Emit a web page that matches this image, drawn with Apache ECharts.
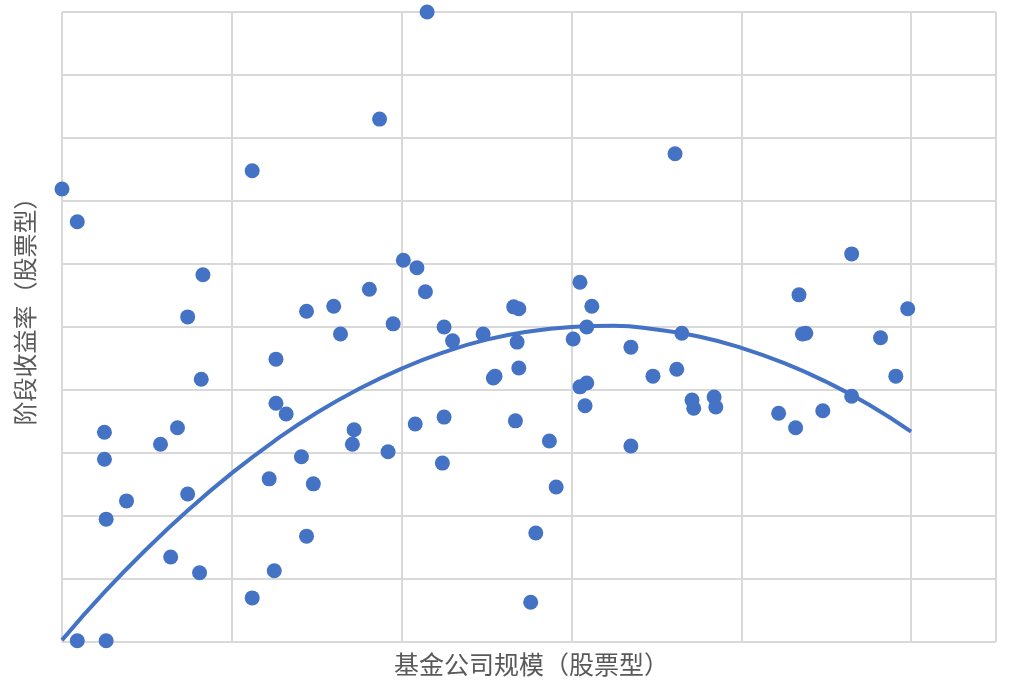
<!DOCTYPE html>
<html>
<head>
<meta charset="utf-8">
<script src="https://cdn.jsdelivr.net/npm/echarts@6/dist/echarts.min.js"></script>
<style>html,body{margin:0;padding:0;background:#fff;}#c{width:1014px;height:684px;}</style>
</head>
<body>
<div id="c"></div>
<script>
// Scatter points: fund company size (x) vs period return (y)
var sizeX = [0.00,0.09,0.09,0.26,0.25,0.25,0.26,0.38,0.58,0.68,0.64,0.74,0.74,0.83,0.82,0.81,
  1.12,1.12,1.26,1.26,1.32,1.22,1.25,1.41,1.44,1.44,1.48,1.60,1.64,1.72,1.71,1.81,1.87,1.92,1.95,
  2.01,2.08,2.09,2.14,2.15,2.25,2.25,2.24,2.30,2.48,2.54,2.55,2.66,2.69,2.67,2.68,2.69,2.79,2.76,2.87,2.91,
  3.01,3.05,3.05,3.09,3.08,3.09,3.12,3.35,3.35,3.48,3.61,3.62,3.65,3.71,3.72,3.84,3.85,
  4.22,4.32,4.34,4.36,4.38,4.48,4.65,4.65,4.82,4.91,4.98];
var returnY = [7.19,6.67,0.02,0.02,3.33,2.90,1.95,2.24,3.14,3.40,1.35,2.35,5.16,5.83,4.17,1.10,
  7.48,0.70,4.49,3.79,3.62,2.59,1.13,2.94,5.25,1.68,2.51,5.33,4.89,3.37,3.14,5.60,8.30,3.02,5.05,
  6.06,3.46,5.94,5.56,10.00,5.00,3.57,2.84,4.78,4.89,4.19,4.22,5.32,5.29,3.51,4.76,4.35,1.73,0.63,3.19,2.46,
  4.81,5.71,4.05,4.11,3.75,5.00,5.33,4.68,3.11,4.22,7.75,4.33,4.90,3.84,3.71,3.89,3.73,
  3.63,3.40,5.51,4.89,4.90,3.67,6.16,3.90,4.83,4.22,5.29];
// Polynomial trendline
var trendX = [0,0.25,0.5,0.75,1,1.25,1.5,1.75,2,2.25,2.5,2.75,3,3.25,3.5,3.75,4,4.25,4.5,4.75,5];
var trendY = [0.03,0.79,1.48,2.11,2.68,3.19,3.64,4.02,4.34,4.60,4.80,4.93,5.00,5.02,4.96,4.85,4.67,4.43,4.13,3.77,3.34];
var xAxisName = '基金公司规模（股票型）';
var yAxisName = '阶段收益率（股票型）';

var scatterData = sizeX.map(function (x, i) { return [x, returnY[i]]; });
var trendData = trendX.map(function (x, i) { return [x, trendY[i]]; });

var chart = echarts.init(document.getElementById('c'), null, {renderer: 'canvas'});
var gridLine = {show: true, lineStyle: {color: '#d9d9d9', width: 2}};
var font = '"Noto Sans CJK SC", "Noto Sans", sans-serif';
chart.setOption({
  animation: false,
  backgroundColor: '#ffffff',
  grid: {left: 62, top: 12, right: 18, bottom: 42, containLabel: false},
  xAxis: {
    type: 'value', min: 0, max: 5.5, interval: 1,
    axisLine: {show: false}, axisTick: {show: false}, axisLabel: {show: false},
    splitLine: gridLine,
    name: xAxisName, nameLocation: 'middle', nameGap: 10,
    nameTextStyle: {fontSize: 25, color: '#595959', fontFamily: font, verticalAlign: 'top', padding: [0, 0, 0, 5]}
  },
  yAxis: {
    type: 'value', min: 0, max: 10, interval: 1,
    axisLine: {show: false}, axisTick: {show: false}, axisLabel: {show: false},
    splitLine: gridLine,
    name: yAxisName, nameLocation: 'middle', nameGap: 25,
    nameTextStyle: {fontSize: 24, color: '#595959', fontFamily: font, padding: [0, 0, 0, 43]}
  },
  series: [
    {
      type: 'scatter', data: scatterData, symbolSize: 15, clip: false,
      itemStyle: {color: '#4472C4', opacity: 1}
    },
    {
      type: 'line', data: trendData, smooth: true, showSymbol: false, symbol: 'none',
      lineStyle: {color: '#4472C4', width: 4}, z: 3
    }
  ]
});
</script>
</body>
</html>
